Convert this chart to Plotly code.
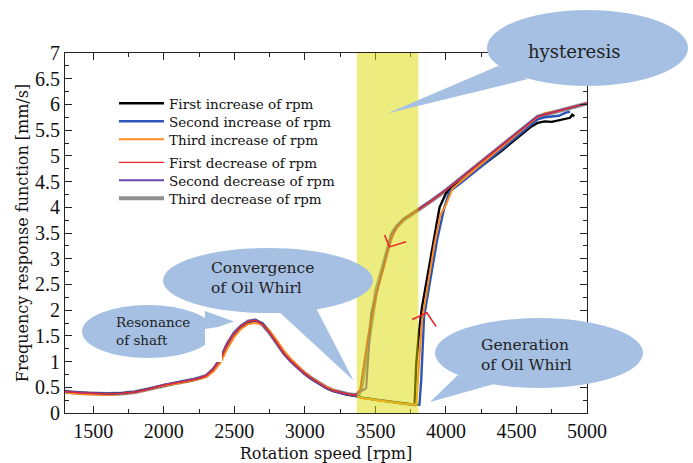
import plotly.graph_objects as go

# ---------------- data ----------------
rpm_low = [1300, 1400, 1500, 1600, 1700, 1800, 1900, 2000, 2100, 2200, 2250, 2300, 2350,
           2400, 2450, 2500, 2550, 2600, 2650, 2700, 2750, 2800, 2850, 2900, 2950, 3000,
           3050, 3100, 3150, 3200, 3250, 3300, 3350]

black_low = [0.41, 0.39, 0.38, 0.37, 0.38, 0.41, 0.47, 0.54, 0.59, 0.64, 0.67, 0.71, 0.83,
             1.01, 1.31, 1.53, 1.68, 1.77, 1.80, 1.74, 1.58, 1.39, 1.18, 1.02, 0.88, 0.76,
             0.66, 0.57, 0.49, 0.43, 0.39, 0.36, 0.34]
blue_low = [0.42, 0.39, 0.38, 0.37, 0.38, 0.41, 0.47, 0.54, 0.59, 0.64, 0.67, 0.72, 0.83,
            1.01, 1.31, 1.54, 1.69, 1.78, 1.80, 1.73, 1.57, 1.38, 1.17, 1.02, 0.89, 0.77,
            0.67, 0.58, 0.50, 0.44, 0.40, 0.37, 0.35]
orange_low = [0.40, 0.37, 0.36, 0.35, 0.37, 0.40, 0.46, 0.53, 0.58, 0.63, 0.66, 0.70, 0.80,
              0.97, 1.25, 1.48, 1.64, 1.73, 1.75, 1.72, 1.60, 1.42, 1.22, 1.05, 0.91, 0.78,
              0.68, 0.59, 0.51, 0.45, 0.40, 0.37, 0.35]
red_low = [0.42, 0.39, 0.38, 0.37, 0.38, 0.41, 0.47, 0.54, 0.59, 0.64, 0.67, 0.72, 0.84,
           1.03, 1.33, 1.55, 1.69, 1.78, 1.80, 1.72, 1.56, 1.37, 1.17, 1.02, 0.89, 0.77,
           0.67, 0.58, 0.50, 0.44, 0.40, 0.37, 0.35]
purple_low = [0.42, 0.40, 0.38, 0.37, 0.38, 0.41, 0.47, 0.55, 0.60, 0.65, 0.68, 0.73, 0.86,
              1.06, 1.36, 1.57, 1.70, 1.79, 1.81, 1.73, 1.56, 1.36, 1.15, 1.00, 0.87, 0.76,
              0.66, 0.57, 0.49, 0.43, 0.39, 0.36, 0.34]
grey_low = [0.42, 0.39, 0.38, 0.37, 0.38, 0.41, 0.47, 0.54, 0.59, 0.64, 0.67, 0.72, 0.84,
            1.03, 1.33, 1.55, 1.69, 1.78, 1.80, 1.72, 1.56, 1.37, 1.17, 1.02, 0.89, 0.77,
            0.67, 0.58, 0.50, 0.44, 0.40, 0.37, 0.35]

# increasing-speed runs above 3350 rpm
black_rpm_hi = [3400, 3500, 3600, 3700, 3778, 3790, 3810, 3830, 3860, 3900, 3930, 3955, 4000,
                4040, 4100, 4200, 4300, 4400, 4500, 4600, 4650, 4700, 4750, 4800, 4850, 4880,
                4895, 4910]
black_val_hi = [0.30, 0.26, 0.22, 0.19, 0.16, 0.97, 1.60, 2.05, 2.50, 3.10, 3.55, 4.00, 4.27,
                4.38, 4.49, 4.69, 4.90, 5.11, 5.33, 5.56, 5.64, 5.67, 5.66, 5.69, 5.72, 5.74,
                5.80, 5.77]
blue_rpm_hi = [3400, 3500, 3600, 3700, 3800, 3812, 3825, 3845, 3890, 3940, 3990, 4025, 4060,
               4100, 4200, 4300, 4400, 4500, 4600, 4650, 4700, 4750, 4800, 4850, 4880]
blue_val_hi = [0.30, 0.26, 0.22, 0.18, 0.16, 0.16, 0.64, 1.87, 2.60, 3.40, 4.01, 4.30, 4.38,
               4.46, 4.68, 4.91, 5.13, 5.36, 5.60, 5.71, 5.75, 5.76, 5.78, 5.84, 5.86]
orange_rpm_hi = [3400, 3500, 3600, 3700, 3790, 3805, 3830, 3875, 3920, 3960, 4000, 4048, 4100,
                 4200, 4300, 4400, 4500, 4600, 4650, 4700, 4750, 4800, 4852]
orange_val_hi = [0.29, 0.25, 0.21, 0.18, 0.16, 0.80, 1.80, 2.55, 3.30, 3.85, 4.05, 4.37, 4.49,
                 4.72, 4.95, 5.17, 5.40, 5.64, 5.76, 5.83, 5.86, 5.87, 5.92]

# decreasing-speed runs above 3350 rpm (listed from low to high rpm)
red_rpm_hi = [3370, 3392, 3412, 3452, 3503, 3562, 3603, 3652, 3700, 3750, 3805, 3900, 4000,
              4100, 4200, 4300, 4400, 4500, 4600, 4650, 4700, 4800, 4900, 5000]
red_val_hi = [0.36, 0.45, 0.85, 1.55, 2.25, 2.85, 3.33, 3.60, 3.76, 3.85, 3.95, 4.13, 4.33,
              4.55, 4.77, 4.99, 5.21, 5.43, 5.66, 5.76, 5.80, 5.87, 5.94, 6.02]
purple_rpm_hi = [3358, 3366, 3375, 3400, 3420, 3435, 3452, 3470, 3520, 3575, 3610, 3650, 3700,
                 3750, 3805, 3900, 4000, 4100, 4200, 4300, 4400, 4500, 4600, 4650, 4700, 4800,
                 4900, 5000]
purple_val_hi = [0.37, 0.31, 0.41, 0.43, 0.45, 0.48, 1.20, 1.94, 2.45, 3.05, 3.45, 3.63, 3.77,
                 3.86, 3.96, 4.14, 4.34, 4.56, 4.78, 5.00, 5.22, 5.44, 5.67, 5.77, 5.81, 5.88,
                 5.95, 6.02]
grey_rpm_hi = [3380, 3399, 3450, 3506, 3530, 3560, 3590, 3620, 3650, 3700, 3750, 3805, 3900,
               4000, 4100, 4200, 4300, 4400, 4500, 4600, 4650, 4700, 4800, 4900, 5000]
grey_val_hi = [0.36, 0.45, 1.40, 2.39, 2.62, 2.92, 3.25, 3.50, 3.62, 3.76, 3.85, 3.95, 4.13,
               4.33, 4.55, 4.77, 4.99, 5.21, 5.43, 5.66, 5.76, 5.80, 5.87, 5.94, 6.02]

series_names = ["First increase of rpm", "Second increase of rpm", "Third increase of rpm",
                "First decrease of rpm", "Second decrease of rpm", "Third decrease of rpm"]

x_ticks = [1500, 2000, 2500, 3000, 3500, 4000, 4500, 5000]
band_rpm = [3368, 3805]  # highlighted hysteresis region

# red direction marks (rpm, value)
mark_down_rpm = [3565, 3600, 3718]
mark_down_val = [3.46, 3.23, 3.33]
mark_up_rpm = [3761, 3865, 3931]
mark_up_val = [1.82, 1.95, 1.68]

# ---------------- figure ----------------
L, R, T, B = 65, 587, 53, 413
W, H = R - L, B - T


def fx(p):
    return (p - L) / W


def fy(p):
    return (B - p) / H


SERIF = "DejaVu Serif"
TIMES = "Liberation Serif"

fig = go.Figure()

# legend row centres (pixels) for the six entries, in reference order
legend_rows = [102, 120, 138, 161, 179, 197]

# (series index, low values, hi rpm, hi values, colour, width)  -- in drawing order
spec = [
    (5, grey_low, grey_rpm_hi, grey_val_hi, "#8e8e8e", 4.0),
    (0, black_low, black_rpm_hi, black_val_hi, "#000000", 2.4),
    (1, blue_low, blue_rpm_hi, blue_val_hi, "#2c55b8", 2.4),
    (2, orange_low, orange_rpm_hi, orange_val_hi, "#ff8a1e", 2.0),
    (4, purple_low, purple_rpm_hi, purple_val_hi, "#6a48b0", 2.0),
    (3, red_low, red_rpm_hi, red_val_hi, "#e8262a", 1.3),
]
legend_layouts = {}
for idx, low, rhi, vhi, col, w in spec:
    lg = "legend" if idx == 0 else f"legend{idx + 1}"
    fig.add_trace(go.Scatter(
        x=rpm_low + rhi, y=low + vhi, mode="lines", name=series_names[idx],
        line=dict(color=col, width=w), legend=lg,
    ))
    legend_layouts[lg] = dict(
        x=fx(114), y=fy(legend_rows[idx] - 14), xanchor="left", yanchor="top",
        bgcolor="rgba(0,0,0,0)", font=dict(family=SERIF, size=13.5, color="#111"),
        itemwidth=45,
    )

shapes = []
# yellow hysteresis band (semi-transparent, over the curves)
shapes.append(dict(type="rect", xref="x", yref="paper", x0=band_rpm[0], x1=band_rpm[1],
                   y0=0, y1=1, fillcolor="rgb(220,220,0)", opacity=0.5,
                   line=dict(width=0), layer="above"))

BUB = "#a5c0e2"


def ellipse(x0, x1, y0, y1):
    return dict(type="circle", xref="paper", yref="paper", x0=fx(x0), x1=fx(x1),
                y0=fy(y1), y1=fy(y0), fillcolor=BUB, line=dict(width=0), layer="above")


def poly(pts, color=BUB):
    d = "M " + " L ".join(f"{fx(a):.5f},{fy(b):.5f}" for a, b in pts) + " Z"
    return dict(type="path", xref="paper", yref="paper", path=d, fillcolor=color,
                line=dict(width=0), layer="above")


# Resonance of shaft (right side cut straight)
shapes.append(ellipse(82, 214, 305, 358))
shapes.append(poly([(205, 306), (222, 306), (222, 362), (205, 362)], "white"))
shapes.append(poly([(205, 311), (234, 321.5), (218, 327), (205, 329)]))
# Convergence of Oil Whirl
shapes.append(ellipse(163, 373, 248, 313))
shapes.append(poly([(276, 309), (315, 306), (353.5, 380.5)]))
# Generation of Oil Whirl
shapes.append(ellipse(435, 643, 318, 388))
shapes.append(poly([(458, 375), (494, 384), (430, 402)]))
# hysteresis
shapes.append(ellipse(487, 688, 10, 86))
shapes.append(poly([(498, 66), (528, 79), (387, 113.5)]))

# red direction marks
for rr, vv in ((mark_down_rpm, mark_down_val), (mark_up_rpm, mark_up_val)):
    d = "M " + " L ".join(f"{a},{b}" for a, b in zip(rr, vv))
    shapes.append(dict(type="path", xref="x", yref="y", path=d,
                       line=dict(color="#e8262a", width=1.6), layer="above"))

annotations = [
    dict(text="hysteresis", x=fx(574), y=fy(51), xanchor="center", yanchor="middle",
         font=dict(family=SERIF, size=18, color="#222")),
    dict(text="Convergence<br>of Oil Whirl", x=fx(209), y=fy(278), xanchor="left",
         yanchor="middle", align="left", font=dict(family=SERIF, size=15.5, color="#222")),
    dict(text="Resonance<br>of shaft", x=fx(114), y=fy(331), xanchor="left",
         yanchor="middle", align="left", font=dict(family=SERIF, size=13.5, color="#222")),
    dict(text="Generation<br>of Oil Whirl", x=fx(479), y=fy(355), xanchor="left",
         yanchor="middle", align="left", font=dict(family=SERIF, size=15.5, color="#222")),
]
for a in annotations:
    a.update(xref="paper", yref="paper", showarrow=False)

axis_common = dict(
    showline=True, linecolor="#222", linewidth=1.2, mirror="ticks",
    ticks="inside", ticklen=7, tickwidth=1, tickcolor="#222",
    showgrid=False, zeroline=False, automargin=False,
    tickfont=dict(family=TIMES, size=20, color="#111"),
)

fig.update_layout(
    width=693, height=463,
    margin=dict(l=L, r=693 - R, t=T, b=463 - B, autoexpand=False),
    paper_bgcolor="white", plot_bgcolor="white",
    shapes=shapes, annotations=annotations,
    xaxis=dict(range=[1300, 5000], tickvals=x_ticks,
               minor=dict(dtick=250, ticks="inside", ticklen=4, tickcolor="#222", showgrid=False),
               title=dict(text="Rotation speed [rpm]", font=dict(family=SERIF, size=16, color="#111"),
                          standoff=15),
               **axis_common),
    yaxis=dict(range=[0, 7], dtick=0.5,
               minor=dict(dtick=0.25, ticks="inside", ticklen=4, tickcolor="#222", showgrid=False),
               title=dict(text="Frequency response function [mm/s]",
                          font=dict(family=SERIF, size=16, color="#111"), standoff=2),
               **axis_common),
    showlegend=True,
    **legend_layouts,
)

fig.write_html("out.html")
